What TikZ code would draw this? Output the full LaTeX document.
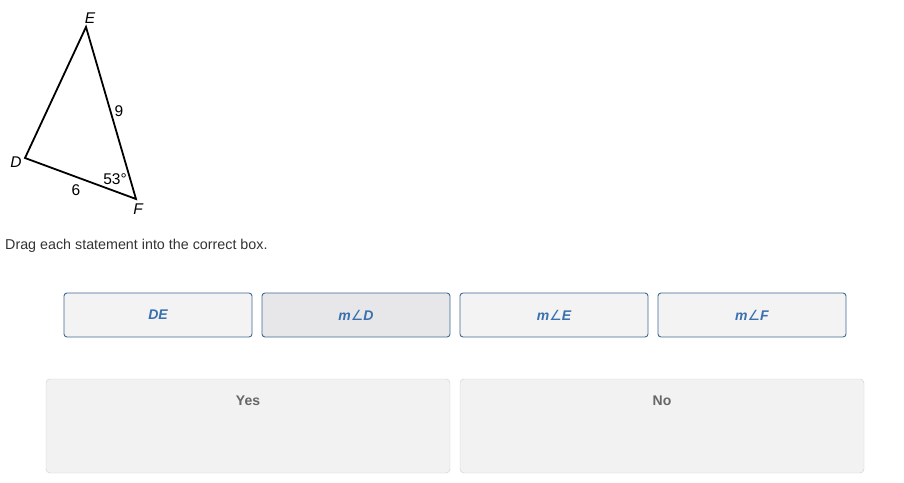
\documentclass[tikz,border=0pt]{standalone}
\usepackage{fontspec}
\setmainfont{Liberation Sans}
\newfontfamily\symfont{DejaVu Sans}
\usetikzlibrary{positioning}
\definecolor{tileborder}{HTML}{3F6A94}
\definecolor{tilefill}{HTML}{F3F3F4}
\definecolor{tilepick}{HTML}{E7E7E9}
\definecolor{tiletext}{HTML}{3A70AE}
\definecolor{binborder}{HTML}{CCCCCC}
\definecolor{binfill}{HTML}{F2F2F2}
\definecolor{bintext}{HTML}{666666}
\definecolor{prompttext}{HTML}{333333}
\newcommand{\ang}{{\symfont\upshape\mdseries ∠}}

\tikzset{
  tile/.style = {draw = tileborder, fill = tilefill, rounded corners = 3pt,
                 minimum width = 188pt, minimum height = 44pt, inner sep = 0pt,
                 outer sep = 0pt, line width = 0.9pt,
                 text = tiletext, font = \fontsize{14}{16}\selectfont\bfseries\itshape},
  bin/.style = {draw = binborder, fill = binfill, rounded corners = 4pt,
                minimum width = 404pt, minimum height = 94pt, inner sep = 0pt,
                outer sep = 0pt},
  binlabel/.style = {text = bintext, font = \fontsize{14}{16}\selectfont\bfseries},
  vlabel/.style = {font = \fontsize{15.5}{17}\selectfont\itshape, inner sep = 0pt},
  slabel/.style = {font = \fontsize{15.5}{17}\selectfont, inner sep = 0pt},
}

\begin{document}
\begin{tikzpicture}[x = 1pt, y = -1pt]
  \useasboundingbox (0,0) rectangle (904,482);

  % triangle
  \coordinate (E) at (86,27);
  \coordinate (D) at (25,158);
  \coordinate (F) at (136,199);
  \draw[line width = 1.8pt, line join = miter] (D) -- (E) -- (F) -- cycle;

  \node[vlabel] (e) at (90,18) {E};
  \node[vlabel] (d) at (16,162) {D};
  \node[vlabel] (f) at (138,209) {F};
  \node[slabel] (ef) at (119,111) {9};
  \node[slabel] (df) at (76,190) {6};
  \node[slabel] (a) at (115,179) {53°};

  \node[anchor = west, inner sep = 0pt, text = prompttext,
        font = \fontsize{14.3}{16}\selectfont] (prompt) at (5,246)
        {Drag each statement into the correct box.};

  % statements
  \node[tile] (de) at (158,315) {DE};
  \node[tile, fill = tilepick, right = 10pt of de] (md) {m\ang D};
  \node[tile, right = 10pt of md] (me) {m\ang E};
  \node[tile, right = 10pt of me] (mf) {m\ang F};

  % answer boxes
  \node[bin] (yes) at (248,426) {};
  \node[bin, right = 10pt of yes] (no) {};
  \node[binlabel] at (yes.north |- 0,401) {Yes};
  \node[binlabel] at (no.north |- 0,401) {No};
\end{tikzpicture}
\end{document}
